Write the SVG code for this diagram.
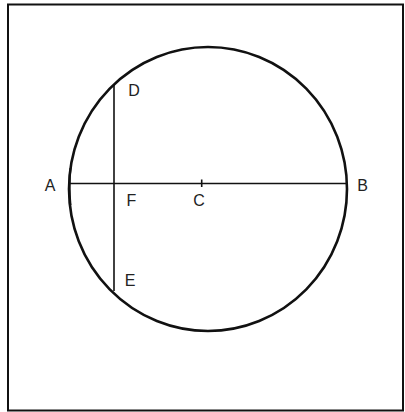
<svg xmlns="http://www.w3.org/2000/svg" width="405" height="412" viewBox="0 0 405 412">
<style>
.lbl{font-family:"Liberation Sans",Arial,sans-serif;font-size:16px;fill:#222}
.ln{stroke:#111;stroke-width:1.6;fill:none}
</style>
<rect x="0" y="0" width="405" height="412" fill="#fff"/>
<rect x="8" y="4.5" width="395" height="406" fill="none" stroke="#111" stroke-width="2"/>
<g id="circle"><ellipse cx="208" cy="189" rx="139" ry="142" fill="none" stroke="#111" stroke-width="2.6"/>
<path d="M70.5 168 Q68.5 186 70.5 205" fill="none" stroke="#111" stroke-width="2"/></g>
<g id="connectors">
<line class="ln" x1="69" y1="183.5" x2="347" y2="183.5"/>
<line class="ln" x1="114" y1="85" x2="114" y2="291"/>
<line class="ln" x1="201.7" y1="179.5" x2="201.7" y2="187" stroke-width="2"/>
</g>
<g id="A"><text class="lbl" x="50" y="191" text-anchor="middle">A</text></g>
<g id="B"><text class="lbl" x="362.5" y="191" text-anchor="middle">B</text></g>
<g id="C"><text class="lbl" x="199" y="206" text-anchor="middle">C</text></g>
<g id="D"><text class="lbl" x="134" y="95.5" text-anchor="middle">D</text></g>
<g id="E"><text class="lbl" x="130" y="286" text-anchor="middle">E</text></g>
<g id="F"><text class="lbl" x="131.5" y="206" text-anchor="middle">F</text></g>
</svg>
